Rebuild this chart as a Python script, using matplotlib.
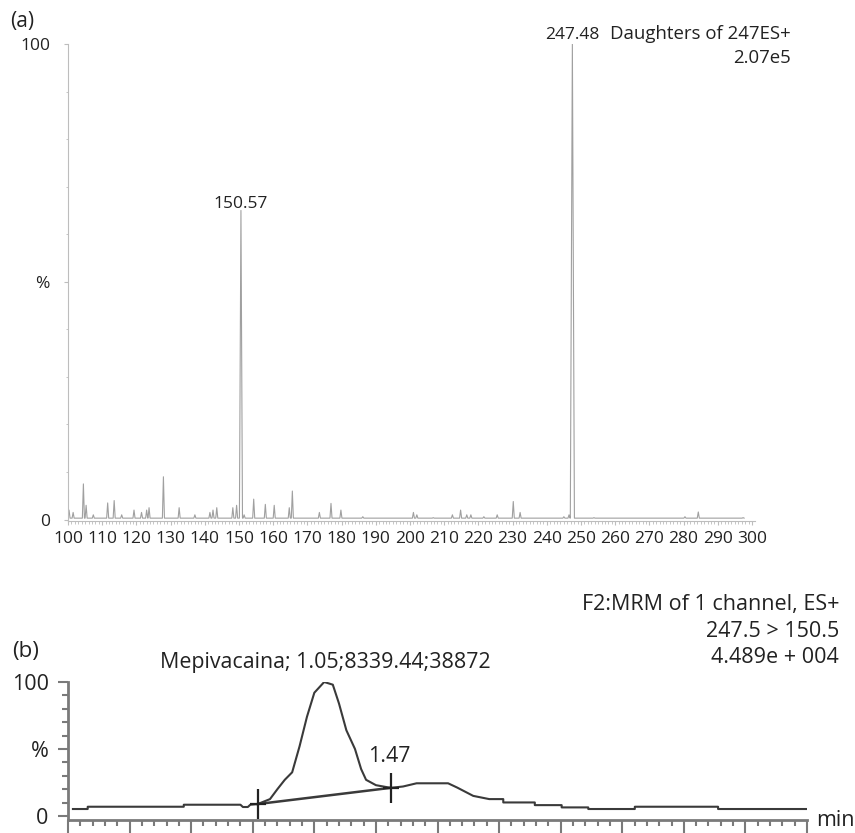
import matplotlib
matplotlib.use("Agg")
import matplotlib.pyplot as plt
import numpy as np

plt.rcParams['font.family'] = ['Open Sans', 'DejaVu Sans']

# ---- (a) product ion spectrum: peak centres (m/z) and relative heights (%)
peak_mz = [100.3, 101.5, 104.5, 105.3, 107.4, 111.6, 113.5, 115.7, 119.3, 121.5,
           123.0, 123.7, 127.9, 132.5, 137.1, 141.5, 142.4, 143.5, 148.2, 149.3,
           150.57, 151.5, 154.3, 157.7, 160.3, 164.7, 165.6, 173.5, 176.9, 179.8,
           186.2, 201.0, 202.0, 206.8, 212.4, 214.8, 216.6, 217.8, 221.6, 225.5,
           230.2, 232.2, 245.0, 246.5, 247.48, 253.8, 280.4, 284.3, 297.4]
peak_int = [2.0, 1.5, 7.5, 3.0, 1.0, 3.5, 4.0, 1.0, 2.0, 1.5,
            2.0, 2.5, 9.0, 2.5, 1.0, 1.5, 2.0, 2.5, 2.5, 3.0,
            65.0, 1.0, 4.3, 3.2, 3.0, 2.5, 6.0, 1.5, 3.4, 2.0,
            0.6, 1.5, 1.0, 0.4, 1.0, 2.0, 1.0, 1.0, 0.6, 1.0,
            3.8, 1.5, 0.6, 1.0, 100.0, 0.4, 0.6, 1.6, 0.4]
peak_hw = {150.57: 0.45, 247.48: 0.6}

# ---- (b) MRM chromatogram 247.5 > 150.5 (time in min, relative %)
chrom_t = [0.02, 0.08, 0.08, 0.47, 0.47, 0.70, 0.71, 0.73, 0.74, 0.77,
           0.82, 0.85, 0.88, 0.91, 0.94, 0.97, 1.00, 1.04, 1.075, 1.10,
           1.13, 1.165, 1.19, 1.21, 1.25, 1.31, 1.36, 1.415, 1.543, 1.58,
           1.645, 1.71, 1.767, 1.767, 1.895, 1.895, 2.004, 2.004, 2.112, 2.112,
           2.301, 2.301, 2.639, 2.639, 2.998]
chrom_pct = [5.2, 5.2, 6.9, 6.9, 8.4, 8.4, 6.7, 6.7, 8.4, 8.9,
             12.6, 20.0, 27.0, 32.6, 52.0, 74.0, 92.0, 100.0, 98.0, 84.0,
             64.0, 50.0, 35.0, 27.0, 23.0, 21.0, 22.0, 24.4, 24.4, 21.2,
             15.0, 12.6, 12.6, 10.1, 10.1, 8.1, 8.1, 6.4, 6.4, 5.2,
             5.2, 6.9, 6.9, 5.2, 5.2]
base_t = [0.77, 1.31]
base_pct = [8.9, 21.0]

W, H = 855, 833
fig = plt.figure(figsize=(W / 100, H / 100), dpi=100)

# ------------------------------------------------------------ panel (a)
ax1 = fig.add_axes([68 / W, 1 - 521 / H, 687.4 / W, 477 / H])

xs, ys = [], []
for mz, h in sorted(zip(peak_mz, peak_int)):
    hw = peak_hw.get(mz, 0.3)
    xs += [mz - hw, mz, mz + hw]
    ys += [0.3, h, 0.3]
ax1.plot(xs, ys, color='#a0a0a0', lw=0.8)

ax1.set_xlim(100, 301)
ax1.set_ylim(-0.3, 100)
for s in ['top', 'right']:
    ax1.spines[s].set_visible(False)
for s in ['left', 'bottom']:
    ax1.spines[s].set_color('#bdbdbd')
ax1.set_xticks(np.arange(100, 301, 10))
ax1.set_xticks(np.arange(100, 301, 1), minor=True)
ax1.set_yticks([0, 50, 100])
ax1.set_yticklabels(['0', '%', '100'])
ax1.set_yticks(np.arange(0, 101, 10), minor=True)
ax1.tick_params(which='both', colors='#bdbdbd', labelcolor='#222222', labelsize=12.5)
ax1.tick_params(axis='x', which='major', length=3, pad=4)
ax1.tick_params(axis='x', which='minor', length=2)
ax1.tick_params(axis='y', which='major', length=3, pad=10)
ax1.tick_params(axis='y', which='minor', length=1.5)

ax1.text(150.57, 65.5, '150.57', ha='center', va='baseline', fontsize=12.5, color='#222222')
ax1.text(247.48, 101, '247.48', ha='center', va='baseline', fontsize=12.5,
         color='#222222', clip_on=False)
fig.text(791 / W, 1 - 39 / H, 'Daughters of 247ES+', ha='right', va='baseline',
         fontsize=13.4, color='#222222')
fig.text(791 / W, 1 - 63 / H, '2.07e5', ha='right', va='baseline',
         fontsize=13.4, color='#222222')
fig.text(10 / W, 1 - 27 / H, '(a)', ha='left', va='baseline', fontsize=15, color='#222222')

# ------------------------------------------------------------ panel (b)
ax2 = fig.add_axes([68 / W, 1 - 820 / H, 739 / W, 138 / H])
ax2.plot(chrom_t, chrom_pct, color='#3a3a3a', lw=1.5)
ax2.plot(base_t, base_pct, color='#3a3a3a', lw=1.8)
ax2.plot(base_t, base_pct, ls='none', marker='|', ms=22, mew=1.6, color='#222222')
ax2.plot(base_t, base_pct, ls='none', marker='_', ms=12, mew=1.6, color='#222222')

ax2.set_xlim(0, 3.0)
ax2.set_ylim(-3, 100)
for s in ['top', 'right']:
    ax2.spines[s].set_visible(False)
for s in ['left', 'bottom']:
    ax2.spines[s].set_color('#7a7a7a')
    ax2.spines[s].set_linewidth(2)
ax2.set_xticks(np.arange(0, 3.01, 0.25))
ax2.set_xticks(np.arange(0, 3.01, 0.05), minor=True)
ax2.set_xticklabels([])
ax2.set_yticks([0, 50, 100])
ax2.set_yticklabels(['0', '%', '100'])
ax2.set_yticks(np.arange(0, 101, 10), minor=True)
ax2.tick_params(which='both', colors='#7a7a7a', labelcolor='#222222', labelsize=15.5, width=1.5)
ax2.tick_params(axis='x', which='major', length=9)
ax2.tick_params(axis='x', which='minor', length=4)
ax2.tick_params(axis='y', which='major', length=7, pad=7)
ax2.tick_params(axis='y', which='minor', length=4)

fig.text(12 / W, 1 - 657 / H, '(b)', ha='left', va='baseline', fontsize=16, color='#222222')
fig.text(325 / W, 1 - 668 / H, 'Mepivacaina; 1.05;8339.44;38872', ha='center',
         va='baseline', fontsize=15.4, color='#222222')
fig.text(389 / W, 1 - 762 / H, '1.47', ha='center', va='baseline', fontsize=15.4, color='#222222')
fig.text(839 / W, 1 - 610 / H, 'F2:MRM of 1 channel, ES+', ha='right', va='baseline',
         fontsize=15.5, color='#222222')
fig.text(839 / W, 1 - 637 / H, '247.5 > 150.5', ha='right', va='baseline',
         fontsize=15.5, color='#222222')
fig.text(839 / W, 1 - 663 / H, '4.489e + 004', ha='right', va='baseline',
         fontsize=15.5, color='#222222')
fig.text(816 / W, 1 - 821 / H, 'min', ha='left', va='center', fontsize=15.5, color='#222222')

fig.savefig('out.png', dpi=100)
